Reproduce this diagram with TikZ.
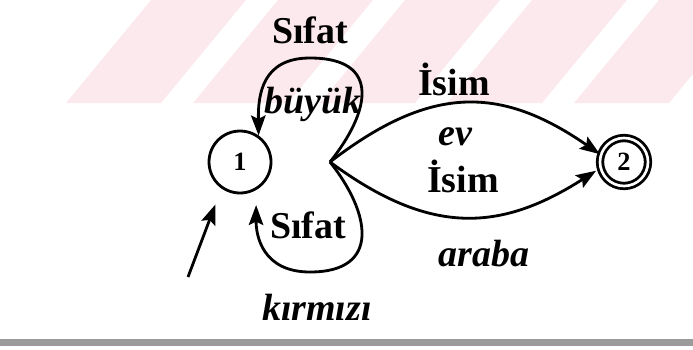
\documentclass[tikz,border=0pt]{standalone}
\usepackage{fontspec}
\setmainfont{Liberation Serif}
\usepackage{xcolor}
\usepackage{tikz}
\usetikzlibrary{arrows.meta,positioning,calc}

\definecolor{wmpink}{RGB}{252,233,237}
\definecolor{scangray}{RGB}{155,155,155}

\tikzset{
  statenode/.style={circle, draw, line width=1.6pt, inner sep=0pt, minimum size=1.24cm,
    font=\fontsize{15}{15}\selectfont\bfseries},
  acceptnode/.style={statenode, double, double distance=1.5pt, minimum size=0.96cm},
  tag/.style={font=\fontsize{21.6}{24}\selectfont\bfseries, anchor=base, inner sep=0pt},
  word/.style={font=\fontsize{21.6}{24}\selectfont\bfseries\itshape, anchor=base, inner sep=0pt},
  trans/.style={line width=1.6pt, -{Stealth[length=4mm,width=2.9mm,inset=0.7mm]}},
}

\begin{document}
\begin{tikzpicture}[x=0.02cm, y=-0.02cm]
\useasboundingbox (0,0) rectangle (693,349);

% Watermark stripes
\begin{scope}
\clip (0,0) rectangle (693,349);
\foreach \b in {66,193,320,447,574} {
  \fill[wmpink] (\b,103) -- (\b+95,103) -- (\b+180,0) -- (\b+85,0) -- cycle;
}
\end{scope}

% Scan band
\fill[scangray] (0,339) rectangle (693,346);

% States
\node[statenode] (n1) at (240,162) {1};
\node[acceptnode] (n2) at (624,162) {2};
\coordinate (fork) at (330,162);
\coordinate (start) at (188,277);

% Transitions
\draw[trans, shorten >=0.34cm] (start) -- (n1.-125);
\draw[trans] (fork) .. controls (430,85) and (500,85) .. (n2.162);
\draw[trans, shorten >=0.08cm] (fork) .. controls (430,236) and (500,232) .. (n2.195);
\draw[trans] (fork) .. controls (370,112) and (382,58) .. (310,58)
    .. controls (262,58) and (258,95) .. (n1.55);
\draw[trans, shorten >=0.3cm] (fork) .. controls (370,212) and (382,272) .. (310,272)
    .. controls (262,272) and (256,235) .. (n1.-60);

% Labels
\node[tag] (sifatup) at (310,43) {Sıfat};
\node[word] (buyuk) at (313,113) {büyük};
\node[tag] (isimup) at (454,95) {İsim};
\node[word] (ev) at (455,145) {ev};
\node[tag] (isimmid) at (463,192) {İsim};
\node[tag] (sifatdown) at (308,238) {Sıfat};
\node[word] (araba) at (484,266) {araba};
\node[word] (kirmizi) at (317,320) {kırmızı};
\end{tikzpicture}
\end{document}
